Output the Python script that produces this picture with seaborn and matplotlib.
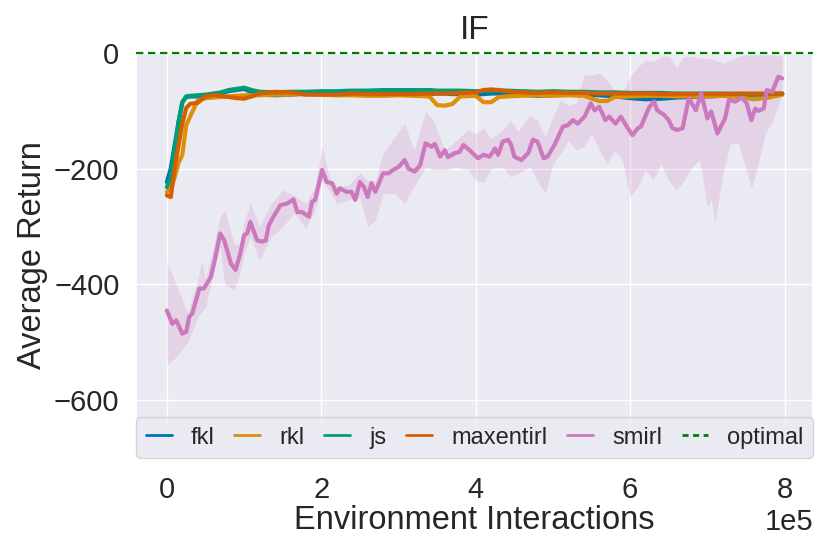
import numpy as np
import pandas as pd
import matplotlib
matplotlib.use("Agg")
import matplotlib.pyplot as plt
import seaborn as sns
from matplotlib.lines import Line2D

# ---------------- data (x in units of 1e5 environment interactions) ----------------
x_scale = 1e5

x_base = [0, 0.05, 0.1, 0.15, 0.2, 0.25, 0.3, 0.4, 0.5, 0.6, 0.7, 0.8, 0.9, 1.0, 1.1,
          1.2, 1.4, 1.6, 1.8, 2.0, 2.2, 2.4, 2.6, 2.8, 3.0, 3.2, 3.4, 3.5, 3.6, 3.7,
          3.8, 4.0, 4.1, 4.2, 4.3, 4.4, 4.6, 4.8, 5.0, 5.2, 5.4, 5.6, 5.7, 5.8, 6.0,
          6.2, 6.4, 6.6, 6.8, 7.0, 7.2, 7.4, 7.6, 7.8, 7.97]

fkl = [-223, -200, -160, -120, -85, -76, -75, -75, -74, -72, -69, -66, -64, -62, -68,
       -72, -73, -72, -70, -68, -70, -71, -70, -70, -69, -70, -71, -70, -70, -71,
       -71, -72, -71, -70, -70, -72, -72, -74, -73, -72, -72, -73, -74, -75, -78,
       -80, -79, -77, -76, -75, -74, -73, -72, -72, -71]

rkl = [-240, -235, -215, -190, -176, -125, -110, -82, -78, -77, -76, -75, -74, -73, -73,
       -73, -72, -72, -71, -72, -73, -73, -74, -74, -73, -74, -75, -90, -91, -88,
       -75, -74, -85, -85, -76, -75, -74, -73, -74, -73, -74, -83, -83, -76, -75,
       -74, -74, -75, -75, -75, -74, -76, -80, -77, -72]

js = [-232, -215, -170, -120, -85, -75, -74, -73, -72, -70, -68, -64, -62, -60, -64,
      -67, -68, -67, -67, -66, -66, -65, -65, -64, -64, -64, -64, -65, -65, -65,
      -65, -66, -66, -66, -65, -65, -66, -67, -66, -67, -67, -68, -68, -68, -69,
      -69, -69, -70, -70, -70, -70, -71, -71, -71, -70]

maxentirl = [-246, -249, -200, -160, -122, -95, -88, -86, -75, -73, -74, -76, -78, -79, -75,
             -70, -67, -68, -72, -72, -72, -70, -71, -71, -71, -71, -70, -70, -70, -70,
             -69, -68, -64, -63, -64, -66, -68, -69, -68, -69, -69, -70, -70, -70, -70,
             -70, -71, -71, -71, -71, -71, -70, -70, -70, -70]

x_smirl = [0, 0.07, 0.12, 0.2, 0.25, 0.29, 0.33, 0.42, 0.48, 0.57, 0.63, 0.69, 0.74, 0.83,
           0.89, 0.95, 1.0, 1.04, 1.08, 1.17, 1.23, 1.28, 1.32, 1.38, 1.47, 1.56, 1.64,
           1.69, 1.75, 1.84, 1.88, 1.92, 2.01, 2.07, 2.14, 2.2, 2.24, 2.33, 2.39, 2.44,
           2.5, 2.55, 2.6, 2.65, 2.7, 2.8, 2.87, 2.93, 3.0, 3.08, 3.13, 3.21, 3.28, 3.35,
           3.43, 3.47, 3.54, 3.6, 3.64, 3.73, 3.79, 3.84, 3.92, 4.03, 4.1, 4.18, 4.25,
           4.29, 4.35, 4.42, 4.46, 4.5, 4.59, 4.68, 4.74, 4.8, 4.88, 4.93, 5.02, 5.13,
           5.19, 5.26, 5.32, 5.41, 5.49, 5.54, 5.6, 5.68, 5.73, 5.81, 5.88, 5.97, 6.03,
           6.1, 6.14, 6.25, 6.31, 6.35, 6.44, 6.5, 6.55, 6.61, 6.68, 6.76, 6.85, 6.92,
           7.0, 7.05, 7.13, 7.23, 7.28, 7.36, 7.45, 7.51, 7.57, 7.62, 7.66, 7.73, 7.77,
           7.84, 7.92, 7.97]

smirl = [-445, -468, -462, -485, -482, -456, -450, -407, -407, -387, -352, -312, -323, -364,
         -375, -347, -315, -312, -292, -324, -326, -324, -298, -283, -263, -260, -253,
         -275, -275, -283, -257, -254, -202, -223, -225, -243, -234, -240, -240, -254,
         -223, -231, -249, -225, -240, -208, -208, -202, -197, -185, -200, -205, -194, -156,
         -162, -157, -179, -168, -180, -173, -171, -159, -168, -182, -176, -179, -165,
         -176, -153, -150, -159, -179, -185, -173, -150, -153, -182, -179, -159, -127,
         -125, -116, -122, -110, -87, -99, -93, -116, -110, -122, -110, -130, -142,
         -130, -127, -93, -84, -99, -107, -116, -130, -133, -130, -78, -99, -70,
         -113, -101, -139, -113, -81, -84, -77, -87, -116, -96, -100, -96, -64,
         -67, -41, -44]

x_band = [0, 0.12, 0.27, 0.33, 0.4, 0.45, 0.5, 0.6, 0.69, 0.75, 0.87, 0.95, 1.0, 1.08,
          1.2, 1.35, 1.5, 1.65, 1.8, 1.92, 2.01, 2.1, 2.2, 2.35, 2.5, 2.6, 2.7, 2.8,
          2.95, 3.08, 3.2, 3.35, 3.45, 3.6, 3.75, 3.9, 4.0, 4.1, 4.2, 4.35, 4.45, 4.55,
          4.7, 4.8, 4.9, 5.0, 5.1, 5.2, 5.3, 5.4, 5.5, 5.6, 5.7, 5.8, 5.9, 6.0, 6.1,
          6.2, 6.3, 6.4, 6.5, 6.6, 6.7, 6.8, 6.9, 7.0, 7.05, 7.1, 7.2, 7.3, 7.4, 7.5,
          7.57, 7.65, 7.75, 7.85, 7.97]

smirl_hi = [-361, -400, -450, -421, -393, -358, -390, -335, -283, -272, -330, -330, -292,
            -260, -300, -260, -237, -246, -260, -231, -162, -214, -231, -228, -208, -220,
            -220, -174, -145, -122, -168, -101, -116, -168, -151, -133, -139, -130, -148,
            -133, -116, -136, -107, -116, -145, -110, -81, -90, -87, -38, -38, -35, -47,
            -64, -70, -41, -24, -12, -15, -6, -6, -24, -6, -6, -9, -9, -10, -12, -18,
            -12, -6, -3, -4, -3, -3, -3, -6]

smirl_lo = [-540, -525, -500, -480, -456, -447, -440, -381, -335, -400, -410, -380, -347,
            -318, -358, -318, -300, -277, -303, -272, -220, -237, -260, -254, -249, -300,
            -289, -243, -243, -260, -231, -197, -202, -202, -197, -202, -220, -223, -200,
            -197, -214, -208, -197, -220, -243, -191, -174, -151, -168, -162, -139, -168,
            -191, -168, -185, -249, -231, -202, -220, -191, -220, -237, -220, -197, -185,
            -266, -254, -292, -208, -156, -156, -200, -234, -197, -139, -116, -70]

methods = ["fkl", "rkl", "js", "maxentirl", "smirl"]
optimal_value = 0

# ---------------- build long table ----------------
series = {"fkl": (x_base, fkl), "rkl": (x_base, rkl), "js": (x_base, js),
          "maxentirl": (x_base, maxentirl), "smirl": (x_smirl, smirl)}
frames = []
for m in methods:
    xs, ys = series[m]
    frames.append(pd.DataFrame({"x": np.asarray(xs) * x_scale, "y": ys, "method": m}))
df = pd.concat(frames, ignore_index=True)

# ---------------- plot ----------------
sns.set_theme(style="darkgrid")
plt.rcParams["font.family"] = ["Liberation Sans", "DejaVu Sans"]

palette = sns.color_palette("colorblind", 5)
colors = dict(zip(methods, palette))
opt_color = "#008000"
opt_dash = (0, (3.3, 2.1))

fig, ax = plt.subplots(figsize=(8.3, 5.54), dpi=100)
fig.subplots_adjust(left=0.164, right=0.9795, top=0.9043, bottom=0.1733)

ax.fill_between(np.asarray(x_band) * x_scale, smirl_lo, smirl_hi,
                color=colors["smirl"], alpha=0.2, linewidth=0)
sns.lineplot(data=df, x="x", y="y", hue="method", hue_order=methods,
             palette=colors, errorbar=None, linewidth=3, ax=ax, legend=False)
ax.axhline(optimal_value, color=opt_color, linestyle=opt_dash, linewidth=1.6,
           clip_on=False, zorder=5)

ax.set_ylim(-700, 0)
ax.set_yticks([-600, -400, -200, 0])
ax.ticklabel_format(axis="x", style="sci", scilimits=(0, 0))
ax.tick_params(axis="both", labelsize=21, length=0)
ax.tick_params(axis="y", pad=12)
ax.tick_params(axis="x", pad=13)
ax.xaxis.get_offset_text().set_fontsize(21)

ax.set_xlabel("Environment Interactions", fontsize=23.5, labelpad=1)
ax.set_ylabel("Average Return", fontsize=23.5, labelpad=4)
ax.set_title("IF", fontsize=24, pad=10)

handles = [Line2D([], [], color=colors[m], linewidth=2) for m in methods]
handles.append(Line2D([], [], color=opt_color, linestyle=(0, (2.2, 1.6)), linewidth=2))
labels = methods + ["optimal"]
leg = ax.legend(handles, labels, loc="lower left", bbox_to_anchor=(0, 0, 1, 0.1),
                mode="expand", ncol=6, fontsize=17, borderaxespad=0,
                handlelength=1.1, frameon=True, fancybox=True)
leg.get_frame().set_edgecolor("0.8")
leg.get_frame().set_facecolor("#EAEAF2")

fig.savefig("out.png", dpi=100)
